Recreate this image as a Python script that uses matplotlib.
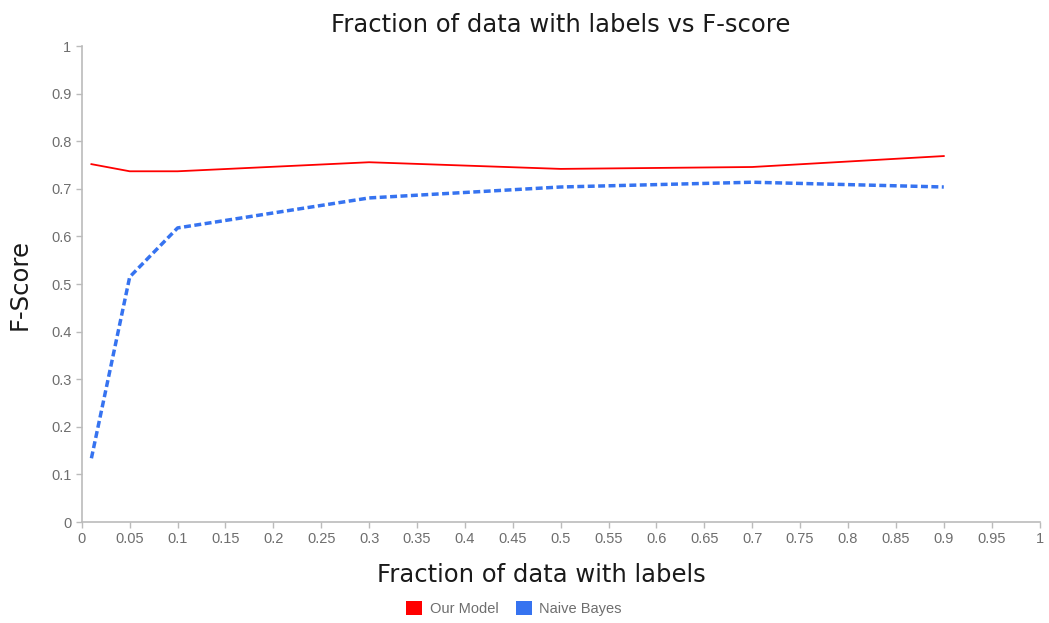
import matplotlib
matplotlib.use("Agg")
import matplotlib.pyplot as plt
from matplotlib.patches import Patch

# Values
fractions = [0.01, 0.05, 0.1, 0.3, 0.5, 0.7, 0.9]
our_model = [0.752, 0.737, 0.737, 0.756, 0.742, 0.746, 0.769]
naive_bayes = [0.134, 0.515, 0.618, 0.681, 0.704, 0.714, 0.704]

x_ticks = [i * 0.05 for i in range(21)]
x_labels = ["0", "0.05", "0.1", "0.15", "0.2", "0.25", "0.3", "0.35", "0.4", "0.45",
            "0.5", "0.55", "0.6", "0.65", "0.7", "0.75", "0.8", "0.85", "0.9", "0.95", "1"]
y_ticks = [i * 0.1 for i in range(11)]
y_labels = ["0", "0.1", "0.2", "0.3", "0.4", "0.5", "0.6", "0.7", "0.8", "0.9", "1"]

red = "#ff0000"
blue = "#3673f0"
grey = "#6e6e6e"

fig = plt.figure(figsize=(10.49, 6.23), dpi=100)
ax = fig.add_axes([0.078, 0.162, 0.913, 0.764])

ax.plot(fractions, our_model, color=red, linewidth=1.3)
ax.plot(fractions, naive_bayes, color=blue, linewidth=2.5, linestyle=(0, (2, 1)))

ax.set_xlim(0, 1)
ax.set_ylim(0, 1)
ax.set_xticks(x_ticks)
ax.set_xticklabels(x_labels)
ax.set_yticks(y_ticks)
ax.set_yticklabels(y_labels)

for side in ["top", "right"]:
    ax.spines[side].set_visible(False)
for side in ["left", "bottom"]:
    ax.spines[side].set_color("#bbbbbb")
    ax.spines[side].set_linewidth(1.2)
ax.tick_params(colors="#bbbbbb", labelcolor=grey, labelsize=10.5, length=4, width=1)
for lab in ax.get_xticklabels() + ax.get_yticklabels():
    lab.set_family("Liberation Sans")

title_font = {"family": "DejaVu Sans", "size": 17.5, "color": "#1a1a1a"}
ax.set_title("Fraction of data with labels vs F-score", fontdict=title_font, pad=10)
ax.set_xlabel("Fraction of data with labels", fontdict=title_font)
ax.xaxis.set_label_coords(0.48, -0.085)
ax.set_ylabel("F-Score", fontdict=title_font, labelpad=14)

handles = [Patch(facecolor=red, label="Our Model"), Patch(facecolor=blue, label="Naive Bayes")]
leg = fig.legend(handles=handles, loc="center", bbox_to_anchor=(0.49, 0.024), ncol=2,
                 frameon=False, handlelength=1.1, handleheight=1.1, columnspacing=1.2,
                 handletextpad=0.5, prop={"family": "Liberation Sans", "size": 10.5})
for t in leg.get_texts():
    t.set_color(grey)

fig.savefig("out.png", dpi=100)
